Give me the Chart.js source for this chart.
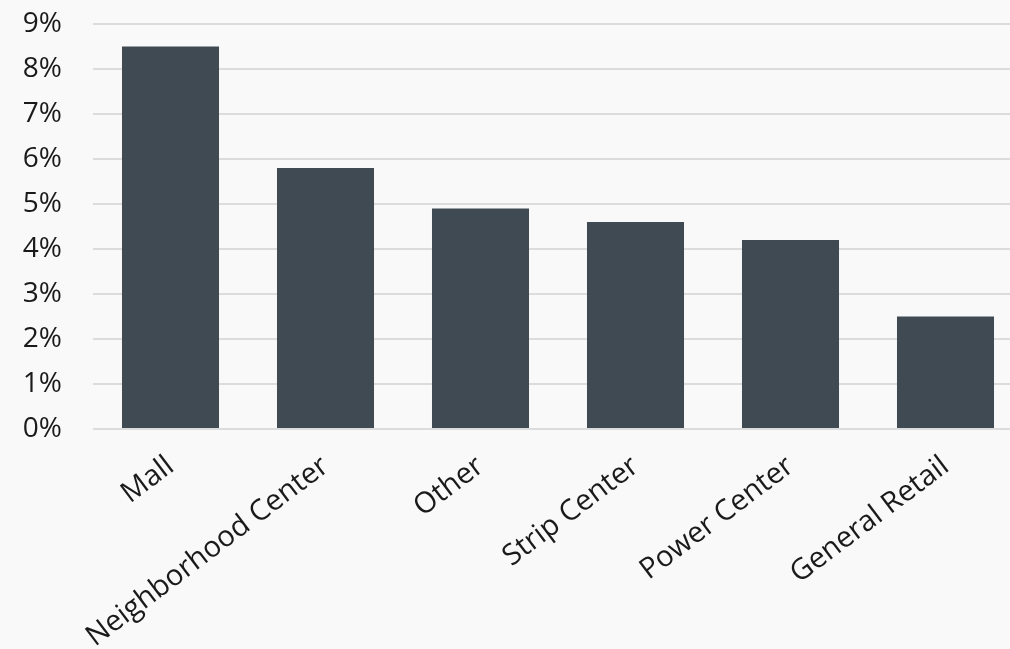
<!DOCTYPE html>
<html>
<head>
<meta charset="utf-8">
<script src="https://cdn.jsdelivr.net/npm/chart.js@4"></script>
<style>
  html, body { margin: 0; padding: 0; background: #f9f9f9; overflow: hidden; }
  #wrap { width: 1023px; height: 649px; }
</style>
</head>
<body>
<div id="wrap"><canvas id="retailChart"></canvas></div>
<script>
const categories = ['Mall', 'Neighborhood Center', 'Other', 'Strip Center', 'Power Center', 'General Retail'];
const values = [8.5, 5.8, 4.9, 4.6, 4.2, 2.5];
const yTicks = [0, 1, 2, 3, 4, 5, 6, 7, 8, 9];

document.addEventListener('DOMContentLoaded', function() {
    const ctx = document.getElementById('retailChart').getContext('2d');

    Chart.defaults.font.family = '"Open Sans", sans-serif';
    Chart.defaults.color = '#1a1a1a';

    new Chart(ctx, {
        type: 'bar',
        data: {
            labels: categories,
            datasets: [{
                data: values,
                backgroundColor: '#404a53',
                borderWidth: 0,
                categoryPercentage: 1,
                barPercentage: 0.626
            }]
        },
        options: {
            responsive: true,
            maintainAspectRatio: false,
            animation: false,
            layout: { padding: { top: 24, right: 0, left: 0, bottom: 0 } },
            plugins: {
                legend: { display: false },
                tooltip: { enabled: false }
            },
            scales: {
                x: {
                    grid: { display: false },
                    border: { display: false },
                    ticks: {
                        font: { size: 29 },
                        minRotation: 37,
                        maxRotation: 37,
                        padding: 12
                    },
                    afterFit: function(scale) {
                        scale.height = 220;
                        scale.paddingLeft = 0;
                        scale.paddingRight = 0;
                    }
                },
                y: {
                    min: 0,
                    max: 9,
                    afterBuildTicks: function(scale) {
                        scale.ticks = yTicks.map(v => ({ value: v }));
                    },
                    grid: { color: '#dcdcdc', lineWidth: 2, drawTicks: false },
                    border: { display: false },
                    ticks: {
                        font: { size: 28 },
                        padding: 31,
                        callback: v => v + '%'
                    },
                    afterFit: function(scale) {
                        scale.width = 93;
                        scale.paddingTop = 0;
                        scale.paddingBottom = 0;
                    }
                }
            }
        }
    });
});
</script>
</body>
</html>
